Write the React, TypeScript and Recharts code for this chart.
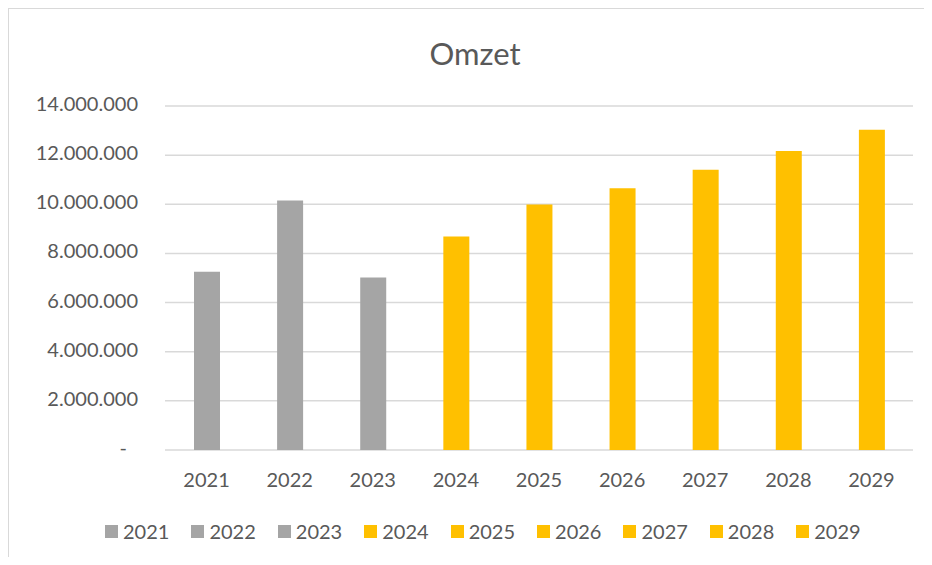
import { BarChart, Bar, XAxis, YAxis, CartesianGrid, Cell } from "recharts";

const years = ["2021", "2022", "2023", "2024", "2025", "2026", "2027", "2028", "2029"];
const omzet = [7250000, 10150000, 7020000, 8690000, 9990000, 10650000, 11410000, 12170000, 13030000];
const yTicks = [0, 2000000, 4000000, 6000000, 8000000, 10000000, 12000000, 14000000];

const data = years.map((year, i) => ({ year, omzet: omzet[i] }));

const GRAY = "#A5A5A5";
const GOLD = "#FFC000";
const TEXT = "#595959";
const FONT = "Lato, 'Noto Sans', sans-serif";

// first three years are actuals (gray), the rest forecast (gold)
const colorFor = (i: number) => (i < 3 ? GRAY : GOLD);

function formatAmount(v: number): string {
  return String(v).replace(/\B(?=(\d{3})+(?!\d))/g, ".");
}

interface TickProps {
  x?: number;
  y?: number;
  payload?: { value: number };
}

const YTick = ({ x = 0, y = 0, payload }: TickProps) => {
  const v = payload ? payload.value : 0;
  const isZero = v === 0;
  return (
    <text
      x={isZero ? x - 11 : x}
      y={y}
      dy={5}
      textAnchor="end"
      fill={TEXT}
      fontSize={20}
      fontFamily={FONT}
    >
      {isZero ? "-" : formatAmount(v)}
    </text>
  );
};

export default function App() {
  return (
    <div
      style={{
        position: "relative",
        width: 924,
        height: 549,
        boxSizing: "border-box",
        borderTop: "1px solid #d9d9d9",
        borderLeft: "1px solid #d9d9d9",
        background: "#fff",
        fontFamily: FONT,
      }}
    >
      <div
        style={{
          position: "absolute",
          left: 266,
          top: 25,
          width: 400,
          textAlign: "center",
          fontSize: 31,
          color: TEXT,
          lineHeight: "normal",
        }}
      >
        Omzet
      </div>
      <BarChart
        width={923}
        height={548}
        data={data}
        margin={{ top: 97, right: 19, left: 0, bottom: 77 }}
      >
        <CartesianGrid vertical={false} stroke="#d9d9d9" strokeWidth={1.5} />
        <XAxis
          dataKey="year"
          axisLine={false}
          tickLine={false}
          tickSize={0}
          tickMargin={23}
          height={30}
          tick={{ fill: TEXT, fontSize: 20, fontFamily: FONT }}
        />
        <YAxis
          domain={[0, 14000000]}
          ticks={yTicks}
          axisLine={false}
          tickLine={false}
          tickSize={0}
          tickMargin={27}
          width={156}
          tick={<YTick />}
        />
        <Bar dataKey="omzet" barSize={26} isAnimationActive={false}>
          {data.map((d, i) => (
            <Cell key={d.year} fill={colorFor(i)} />
          ))}
        </Bar>
      </BarChart>
      <div
        style={{
          position: "absolute",
          left: 96,
          top: 510,
          height: 24,
          display: "flex",
          alignItems: "center",
          gap: 22,
          fontSize: 20,
          lineHeight: "24px",
          color: TEXT,
        }}
      >
        {years.map((year, i) => (
          <div key={year} style={{ display: "flex", alignItems: "center", gap: 5 }}>
            <span
              style={{
                display: "inline-block",
                width: 13,
                height: 13,
                background: colorFor(i),
              }}
            />
            {year}
          </div>
        ))}
      </div>
    </div>
  );
}
